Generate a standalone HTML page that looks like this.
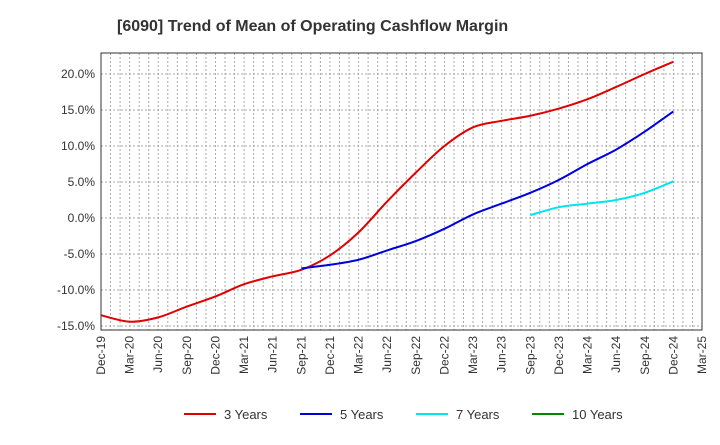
<!DOCTYPE html>
<html><head><meta charset="utf-8"><style>
body{margin:0;background:#fff;font-family:"Liberation Sans",sans-serif}
</style></head><body>
<svg id="c" width="720" height="440" xmlns="http://www.w3.org/2000/svg">
<text x="117" y="31" font-size="16" font-weight="bold" fill="#333">[6090]  Trend of Mean of Operating Cashflow Margin</text>
<g id="grid"></g><g id="series"></g><g id="axes"></g><g id="legend"></g>
</svg>
<script>
const xLabels=["Dec-19","Mar-20","Jun-20","Sep-20","Dec-20","Mar-21","Jun-21","Sep-21","Dec-21","Mar-22","Jun-22","Sep-22","Dec-22","Mar-23","Jun-23","Sep-23","Dec-23","Mar-24","Jun-24","Sep-24","Dec-24","Mar-25"];
const yTicks=[-15,-10,-5,0,5,10,15,20];
const s3=[-13.5,-14.4,-13.8,-12.3,-10.9,-9.2,-8.1,-7.2,-5.2,-2.0,2.3,6.3,10.0,12.6,13.5,14.2,15.2,16.5,18.2,20.0,21.7];
const s5=[-7.0,-6.5,-5.8,-4.5,-3.2,-1.5,0.5,2.0,3.5,5.3,7.5,9.5,12.0,14.8];
const s7=[0.4,1.5,2.0,2.5,3.5,5.1];
const s10=[];
const L=101,R=702,T=53,B=330;
const X=q=>L+q*(R-L)/21;
const Y=v=>218-v*36/5;
const NS="http://www.w3.org/2000/svg";
function mk(t,a,p){const e=document.createElementNS(NS,t);for(const k in a)e.setAttribute(k,a[k]);p.appendChild(e);return e;}
const grid=document.getElementById('grid'),axes=document.getElementById('axes'),ser=document.getElementById('series'),leg=document.getElementById('legend');
for(let m=1;m<63;m++){const x=L+m*(R-L)/63;const l=mk('line',{x1:x,x2:x,y1:T,y2:B,stroke:'#aaa','stroke-dasharray':'2,2','stroke-width':1},grid);

}
yTicks.forEach(v=>{const y=Y(v);const l=mk('line',{x1:L,x2:R,y1:y,y2:y,stroke:'#aaa','stroke-dasharray':'2,2'},grid);


const t=mk('text',{x:L-6,y:y+4,'text-anchor':'end','font-size':12,fill:'#333'},axes);t.textContent=v.toFixed(1)+'%';

});
const fr=mk('rect',{x:L,y:T,width:R-L,height:B-T,fill:'none',stroke:'#333'},axes);


xLabels.forEach((s,i)=>{const x=X(i);const t=mk('text',{transform:`translate(${x+4},${B+6}) rotate(-90)`,'text-anchor':'end','font-size':12,fill:'#333'},axes);t.textContent=s;

});
function path(vals,start){const p=vals.map((v,i)=>[X(start+i),Y(v)]);if(p.length<2)return '';let d=`M${p[0][0]},${p[0][1]}`;
for(let i=0;i<p.length-1;i++){const p0=p[i-1]||p[i],p1=p[i],p2=p[i+1],p3=p[i+2]||p2;
d+=` C${p1[0]+(p2[0]-p0[0])/6},${p1[1]+(p2[1]-p0[1])/6} ${p2[0]-(p3[0]-p1[0])/6},${p2[1]-(p3[1]-p1[1])/6} ${p2[0]},${p2[1]}`;}return d;}
const defs=[[s3,0,'#e00000','3 Years','line-3-years'],[s5,7,'#0000dd','5 Years','line-5-years'],[s7,15,'#00e5ee','7 Years','line-7-years'],[s10,20,'#008800','10 Years','line-10-years']];
defs.forEach(([v,st,c,n,dn],i)=>{if(v.length>1){const p=mk('path',{d:path(v,st),fill:'none',stroke:c,'stroke-width':2},ser);

}
const lx=[184,300,416,532][i];const g=mk('g',{},leg);


mk('line',{x1:lx,x2:lx+32,y1:414,y2:414,stroke:c,'stroke-width':2},g);
const t=mk('text',{x:lx+40,y:419,'font-size':13,fill:'#333'},g);t.textContent=n;});
</script>
</body></html>
